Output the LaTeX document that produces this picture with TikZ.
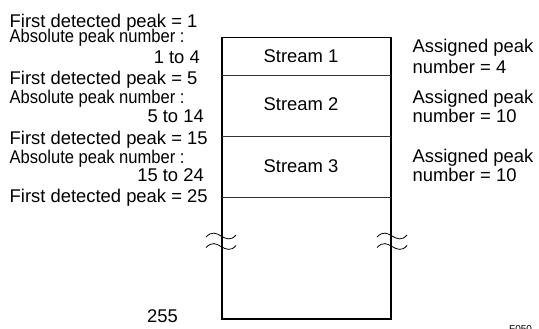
\documentclass[tikz,border=0pt]{standalone}
\usepackage{fontspec}
\setmainfont{Liberation Sans}
\begin{document}
\begin{tikzpicture}[x=1pt,y=-1pt,
  lbl/.style={inner sep=0pt,font=\fontsize{18.4}{20}\selectfont},
  lw/.style={lbl,anchor=base west},
  le/.style={lbl,anchor=base east},
  outer/.style={line width=1.8pt,line cap=rect},
  divider/.style={line width=0.9pt,draw=black!80},
  brk/.style={line width=0.8pt}]
\useasboundingbox (0,0) rectangle (539,329);
% box
\coordinate (tl) at (222,37.5);
\coordinate (tr) at (391,37.5);
\coordinate (bl) at (222,319);
\coordinate (br) at (391,319);
\draw[outer] (bl) -- (tl) -- (tr) -- (br) -- cycle;
\coordinate (d1l) at (222,75); \coordinate (d1r) at (391,75);
\coordinate (d2l) at (222,136); \coordinate (d2r) at (391,136);
\coordinate (d3l) at (222,197); \coordinate (d3r) at (391,197);
\draw[divider] (d1l) -- (d1r);
\draw[divider] (d2l) -- (d2r);
\draw[divider] (d3l) -- (d3r);
% stream labels
\node[lbl,anchor=base] (s1) at (301,63) {Stream 1};
\node[lbl,anchor=base] (s2) at (301,111) {Stream 2};
\node[lbl,anchor=base] (s3) at (301,172) {Stream 3};
% wave breaks
\foreach \xx in {206,377}{
  \foreach \yy in {236,246.5}{
    \draw[brk] (\xx,\yy+1) .. controls (\xx+6,\yy-5) and (\xx+10,\yy-3) .. (\xx+15,\yy)
      .. controls (\xx+20,\yy+3) and (\xx+25,\yy+5) .. (\xx+30,\yy-1);
  }
}
% left labels
\node[lw] (f1) at (9.5,28) {First detected peak = 1};
\node[lw] (a1) at (9.5,43) {\scalebox{0.9}[1]{Absolute peak number :}};
\node[le] (r1) at (200,64) {1 to 4};
\node[lw] (f5) at (9.5,85) {First detected peak = 5};
\node[lw] (a2) at (9.5,104) {\scalebox{0.9}[1]{Absolute peak number :}};
\node[le] (r2) at (204,123) {5 to 14};
\node[lw] (f15) at (9.5,145) {First detected peak = 15};
\node[lw] (a3) at (9.5,164) {\scalebox{0.9}[1]{Absolute peak number :}};
\node[le] (r3) at (204,182) {15 to 24};
\node[lw] (f25) at (9.5,202) {First detected peak = 25};
\node[lw] (n255) at (147,322) {255};
% right labels
\node[lw] (p1a) at (412.5,53) {Assigned peak};
\node[lw] (p1b) at (412.5,74) {number = 4};
\node[lw] (p2a) at (412.5,103) {Assigned peak};
\node[lw] (p2b) at (412.5,123) {number = 10};
\node[lw] (p3a) at (412.5,162) {Assigned peak};
\node[lw] (p3b) at (412.5,182) {number = 10};
\node[inner sep=0pt,anchor=base west,font=\fontsize{10}{12}\selectfont] (fig) at (509,332) {F050};
\end{tikzpicture}
\end{document}
